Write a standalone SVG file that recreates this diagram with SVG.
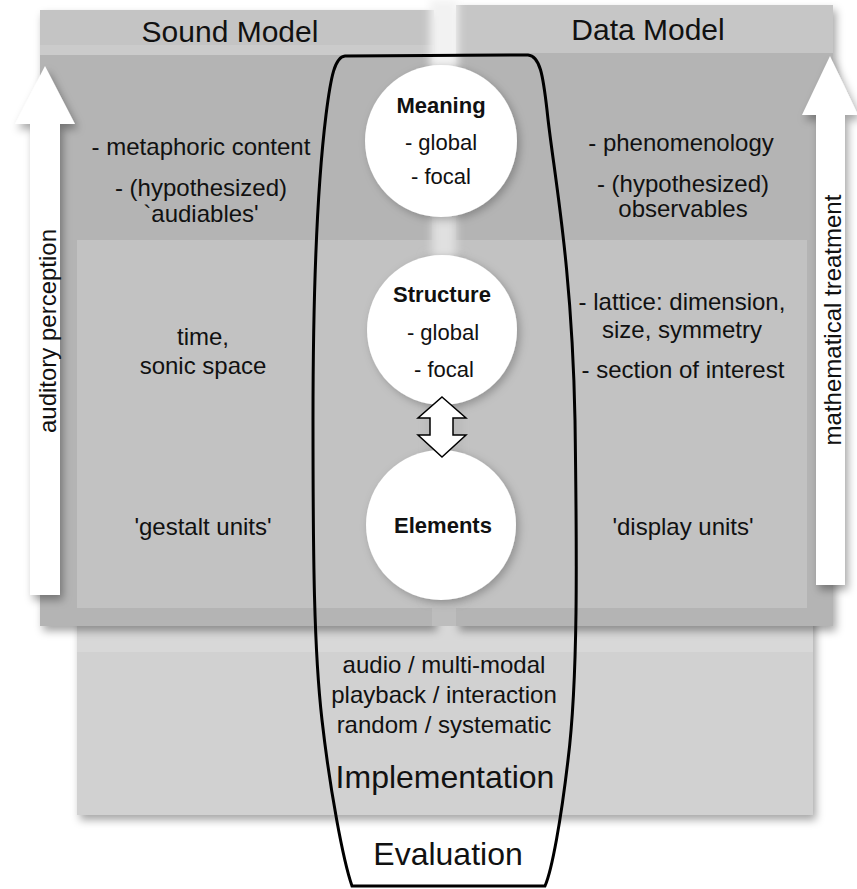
<svg xmlns="http://www.w3.org/2000/svg" width="857" height="889" viewBox="0 0 857 889">
<style>
text{font-family:"Liberation Sans",Arial,sans-serif;fill:#111}
.hdr{font-size:30px;text-anchor:middle}
.body{font-size:24px;text-anchor:middle}
.impl{font-size:24px;text-anchor:middle}
.cb{font-size:22px;font-weight:bold;text-anchor:middle}
.cr{font-size:22px;text-anchor:middle}
.big{font-size:32px;text-anchor:middle}
.circ{fill:#fff}
</style>
<defs>
<filter id="sh" x="-10%" y="-10%" width="130%" height="130%">
<feDropShadow dx="3" dy="5" stdDeviation="4" flood-color="#000" flood-opacity="0.35"/>
</filter>
<filter id="csh" x="-20%" y="-20%" width="140%" height="140%">
<feDropShadow dx="3" dy="3" stdDeviation="4" flood-color="#000" flood-opacity="0.25"/>
</filter>
<filter id="blur" x="-50%" y="-10%" width="200%" height="120%">
<feGaussianBlur stdDeviation="4"/>
</filter>
</defs>
<rect width="857" height="889" fill="#fff"/>

<g id="implementation">
<rect x="77" y="612" width="736" height="203" fill="#d1d1d1" filter="url(#sh)"/>
<rect x="77" y="608" width="736" height="44" fill="#d8d8d8"/>
<text class="impl" x="444" y="673">audio / multi-modal</text>
<text class="impl" x="444" y="703">playback / interaction</text>
<text class="impl" x="444" y="733">random / systematic</text>
<text class="big" x="445" y="788">Implementation</text>
</g>

<g id="sound-model">
<rect x="40" y="10" width="394" height="616" fill="#b4b4b4" filter="url(#sh)"/>
<rect x="40" y="10" width="394" height="35" fill="#c4c4c4"/>
<rect x="40" y="45" width="394" height="10" fill="#cbcbcb"/>
<text class="hdr" x="230" y="42">Sound Model</text>
</g>

<g id="data-model">
<rect x="456" y="5" width="377" height="621" fill="#b4b4b4" filter="url(#sh)"/>
<rect x="456" y="5" width="377" height="48" fill="#c6c6c6"/>
<text class="hdr" x="648" y="40">Data Model</text>
</g>

<rect x="432" y="55" width="24" height="571" fill="#bdbdbd"/>
<rect x="430" y="0" width="28" height="70" fill="#f2f2f2" filter="url(#blur)"/>
<rect x="77" y="240" width="730" height="368" fill="#c2c2c2"/>
<rect x="426" y="255" width="36" height="345" fill="#bababa" filter="url(#blur)"/>
<rect x="432" y="210" width="24" height="50" fill="#e0e0e0" filter="url(#blur)"/>

<g id="sound-texts">
<text class="body" x="201" y="155">- metaphoric content</text>
<text class="body" x="201" y="196">- (hypothesized)</text>
<text class="body" x="201" y="222">`audiables'</text>
<text class="body" x="203" y="345">time,</text>
<text class="body" x="203" y="374">sonic space</text>
<text class="body" x="203" y="535">'gestalt units'</text>
</g>

<g id="data-texts">
<text class="body" x="681" y="151">- phenomenology</text>
<text class="body" x="683" y="192">- (hypothesized)</text>
<text class="body" x="683" y="217">observables</text>
<text class="body" x="682" y="310">- lattice: dimension,</text>
<text class="body" x="682" y="338">size, symmetry</text>
<text class="body" x="683" y="378">- section of interest</text>
<text class="body" x="683" y="535">'display units'</text>
</g>

<g id="auditory-perception">
<polygon points="45,66 75,124 60,124 60,595 30,595 30,124 15,124" fill="#fff" filter="url(#sh)"/>
<text class="body" transform="translate(56,331) rotate(-90)">auditory perception</text>
</g>

<g id="mathematical-treatment">
<polygon points="830,56 858,115 845,115 845,585 816,585 816,115 802,115" fill="#fff" filter="url(#sh)"/>
<text class="body" transform="translate(841,320) rotate(-90)">mathematical treatment</text>
</g>

<g id="meaning">
<circle class="circ" cx="441" cy="141" r="76" filter="url(#csh)"/>
<text class="cb" x="441" y="113">Meaning</text>
<text class="cr" x="441" y="150">- global</text>
<text class="cr" x="441" y="184">- focal</text>
</g>

<g id="structure">
<circle class="circ" cx="442" cy="330" r="75" filter="url(#csh)"/>
<text class="cb" x="442" y="302">Structure</text>
<text class="cr" x="443" y="340">- global</text>
<text class="cr" x="444" y="377">- focal</text>
</g>

<g id="elements">
<circle class="circ" cx="441" cy="525" r="75" filter="url(#csh)"/>
<text class="cb" x="443" y="533">Elements</text>
</g>

<g id="connectors">
<polygon points="442,397 466,418 453,418 453,435 466,435 442,457 418,435 430,435 430,418 418,418" fill="#fff" stroke="#000" stroke-width="1.5" stroke-linejoin="miter"/>
</g>

<g id="evaluation">
<path d="M 345,56 L 528,55 C 540,56 543,75 547,110 C 553,170 572,260 575,420 C 577,560 578,680 568,760 C 561,820 552,870 545,886 L 352,886 C 343,860 330,790 322,720 C 314,650 313,560 313,420 C 313,280 318,180 326,115 C 331,75 335,57 345,56 Z" fill="none" stroke="#000" stroke-width="3"/>
<text class="big" x="448" y="865">Evaluation</text>
</g>
</svg>
